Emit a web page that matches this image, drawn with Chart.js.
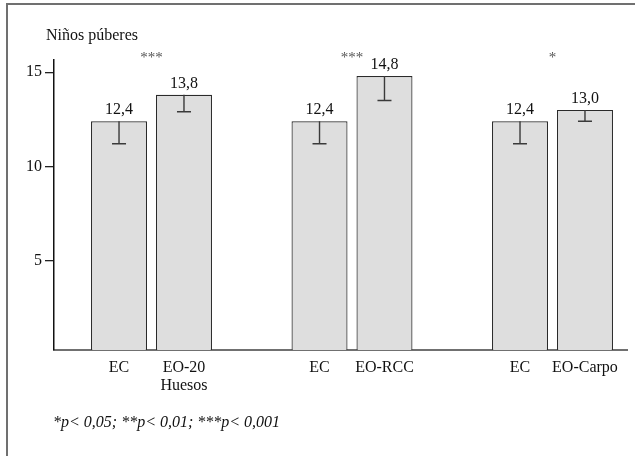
<!DOCTYPE html>
<html>
<head>
<meta charset="utf-8">
<script src="https://cdn.jsdelivr.net/npm/chart.js@4/dist/chart.umd.min.js"></script>
<style>
  html, body { margin: 0; padding: 0; background: #fff; }
  canvas { display: block; }
</style>
</head>
<body>
<canvas id="pubChart" width="635" height="456"></canvas>
<script>
// group positions on the x axis (one group per comparison)
const groupPos = [1, 2, 3];
const ecLabels = ['EC', 'EC', 'EC'];
const eoLabels = [['EO-20', 'Huesos'], 'EO-RCC', 'EO-Carpo'];
const ecValues = [12.4, 12.4, 12.4];
const eoValues = [13.8, 14.8, 13.0];
const ecErr = [1.2, 1.2, 1.2];
const eoErr = [0.9, 1.3, 0.6];
const stars = ['***', '***', '*'];
const yTicks = [5, 10, 15];

const FONT = '"Liberation Serif", "Times New Roman", serif';

const fmt = v => v.toFixed(1).replace('.', ',');

const extras = {
  id: 'extras',
  afterDatasetsDraw(chart) {
    const ctx = chart.ctx;
    const y = chart.scales.y;
    const x = chart.scales.x;
    const area = chart.chartArea;
    const labelSets = [ecLabels, eoLabels];
    const errSets = [ecErr, eoErr];

    ctx.save();
    chart.data.datasets.forEach((ds, di) => {
      const meta = chart.getDatasetMeta(di);
      meta.data.forEach((bar, i) => {
        const val = ds.data[i].y;
        // error whisker (downward only)
        const yLow = y.getPixelForValue(val - errSets[di][i]);
        ctx.strokeStyle = '#3a3a3a';
        ctx.lineWidth = 1.4;
        ctx.beginPath();
        ctx.moveTo(bar.x, bar.y);
        ctx.lineTo(bar.x, yLow);
        ctx.moveTo(bar.x - 7, yLow);
        ctx.lineTo(bar.x + 7, yLow);
        ctx.stroke();

        // value above bar
        ctx.fillStyle = '#111';
        ctx.font = '16px ' + FONT;
        ctx.textAlign = 'center';
        ctx.textBaseline = 'alphabetic';
        ctx.fillText(fmt(val), bar.x, bar.y - 7);

        // category label under bar
        const lab = labelSets[di][i];
        const lines = Array.isArray(lab) ? lab : [lab];
        lines.forEach((t, li) => {
          ctx.fillText(t, bar.x, area.bottom + 22 + li * 18);
        });
      });
    });

    // significance stars
    ctx.fillStyle = '#555';
    ctx.font = '15px ' + FONT;
    ctx.textAlign = 'center';
    groupPos.forEach((g, i) => {
      ctx.fillText(stars[i], x.getPixelForValue(g), area.top + 2);
    });

    // axis title
    ctx.fillStyle = '#111';
    ctx.font = '16px ' + FONT;
    ctx.textAlign = 'left';
    ctx.fillText('Niños púberes', 46, 40);

    // footnote
    ctx.font = 'italic 16px ' + FONT;
    ctx.fillText('*p< 0,05; **p< 0,01; ***p< 0,001', 53, 427);

    // frame
    ctx.strokeStyle = '#707070';
    ctx.lineWidth = 2;
    ctx.beginPath();
    ctx.moveTo(7, chart.height);
    ctx.lineTo(7, 4);
    ctx.lineTo(chart.width, 4);
    ctx.stroke();
    ctx.restore();
  }
};

const ctx = document.getElementById('pubChart').getContext('2d');
new Chart(ctx, {
  type: 'bar',
  data: {
    datasets: [
      {
        label: 'EC',
        data: groupPos.map((g, i) => ({ x: g, y: ecValues[i] })),
        backgroundColor: '#dedede',
        borderColor: '#2a2a2a',
        borderWidth: 1.2
      },
      {
        label: 'EO',
        data: groupPos.map((g, i) => ({ x: g, y: eoValues[i] })),
        backgroundColor: '#dedede',
        borderColor: '#2a2a2a',
        borderWidth: 1.2
      }
    ]
  },
  options: {
    responsive: false,
    animation: false,
    categoryPercentage: 0.648,
    barPercentage: 0.862,
    layout: { padding: { left: 0, right: 8, top: 60, bottom: 106 } },
    plugins: {
      legend: { display: false },
      tooltip: { enabled: false }
    },
    scales: {
      x: {
        type: 'linear',
        offset: false,
        min: 0.5137,
        max: 3.3716,
        afterBuildTicks: s => { s.ticks = groupPos.map(v => ({ value: v })); },
        afterFit: s => { s.height = 0; },
        ticks: { display: false },
        grid: { display: false },
        border: { color: '#707070', width: 2 }
      },
      y: {
        min: 0.25,
        max: 15.65,
        afterBuildTicks: s => { s.ticks = yTicks.map(v => ({ value: v })); },
        afterFit: s => { s.width = 54; },
        ticks: {
          color: '#111',
          padding: 3,
          font: { family: FONT, size: 16 }
        },
        grid: {
          drawOnChartArea: false,
          drawTicks: true,
          tickLength: 9,
          color: '#222',
          lineWidth: 1.3
        },
        border: { color: '#111', width: 1.5 }
      }
    }
  },
  plugins: [extras]
});
</script>
</body>
</html>
